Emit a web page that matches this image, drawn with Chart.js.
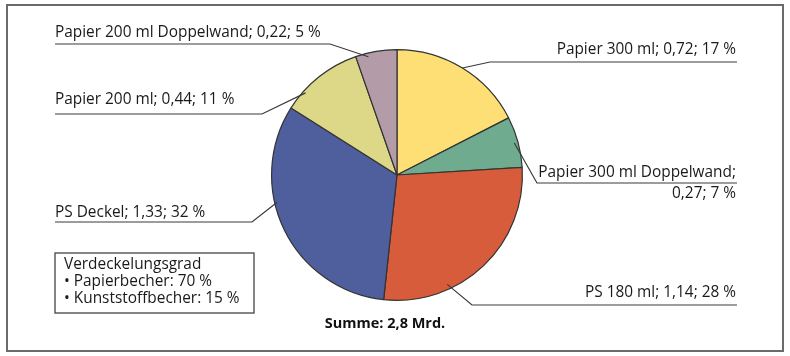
<!DOCTYPE html>
<html>
<head>
<meta charset="utf-8">
<script src="https://cdn.jsdelivr.net/npm/chart.js@4.4.1/dist/chart.umd.min.js"></script>
<style>
html,body{margin:0;padding:0;background:#fff;}
#wrap{width:790px;height:356px;position:relative;}
</style>
</head>
<body>
<div id="wrap"><canvas id="c" width="790" height="356"></canvas></div>
<script>
// ---- data ----
const categories = ["Papier 300 ml", "Papier 300 ml Doppelwand", "PS 180 ml", "PS Deckel", "Papier 200 ml", "Papier 200 ml Doppelwand"];
const values = [0.72, 0.27, 1.14, 1.33, 0.44, 0.22];
const percents = [17, 7, 28, 32, 11, 5];
const colors = ["#FDDF76", "#6FAB8E", "#D75C3C", "#4F5F9D", "#DDD888", "#B39BA8"];
const totalLabel = "Summe: 2,8 Mrd.";
const infoLines = ["Verdeckelungsgrad", "\u2022 Papierbecher: 70 %", "\u2022 Kunststoffbecher: 15 %"];

function fmt(v){ return v.toFixed(2).replace('.', ','); }

// ---- label layout (positions only) ----
const labelLayout = [
  {side:'R', x:736, ys:[50], uy:62, cx:490, da:0, rf:1.0, split:false},
  {side:'R', x:736, ys:[173,194], uy:183, cx:537, da:0, rf:0.97, split:true},
  {side:'R', x:736, ys:[293], uy:305, cx:472, da:19, rf:0.96, split:false},
  {side:'L', x:55, ys:[213], uy:222, cx:252, da:13, rf:0.98, split:false},
  {side:'L', x:55, ys:[100], uy:114, cx:262, da:-9.6, rf:0.98, split:false},
  {side:'L', x:55, ys:[33], uy:44, cx:330, da:-4, rf:0.97, split:false}
];

const FONT = '15.4px "Open Sans", "Noto Sans", sans-serif';

const decor = {
  id:'decor',
  beforeDraw(chart){
    const ctx = chart.ctx;
    ctx.save();
    ctx.fillStyle = '#fff';
    ctx.fillRect(0,0,chart.width,chart.height);
    ctx.restore();
  },
  afterDraw(chart){
    const ctx = chart.ctx;
    const meta = chart.getDatasetMeta(0);
    ctx.save();
    // frame
    ctx.strokeStyle = '#6b6b6b';
    ctx.lineWidth = 2;
    ctx.strokeRect(7, 5, 776, 346);
    // labels
    ctx.font = FONT;
    ctx.fillStyle = '#1a1a1a';
    ctx.textBaseline = 'middle';
    meta.data.forEach((arc, i) => {
      const L = labelLayout[i];
      const p = arc.getProps(['x','y','startAngle','endAngle','outerRadius'], true);
      const mid = (p.startAngle + p.endAngle)/2 + L.da*Math.PI/180;
      const r = p.outerRadius * L.rf;
      const ax = p.x + Math.cos(mid)*r;
      const ay = p.y + Math.sin(mid)*r;
      const full = categories[i] + '; ' + fmt(values[i]) + '; ' + percents[i] + ' %';
      const lines = L.split ? [categories[i] + ';', fmt(values[i]) + '; ' + percents[i] + ' %'] : [full];
      ctx.textAlign = L.side === 'L' ? 'left' : 'right';
      lines.forEach((t, k) => ctx.fillText(t, L.x, L.ys[k]));
      ctx.strokeStyle = '#3a3a3a';
      ctx.lineWidth = 1.2;
      ctx.beginPath();
      ctx.moveTo(L.side === 'L' ? L.x : L.x + 1, L.uy);
      ctx.lineTo(L.cx, L.uy);
      ctx.lineTo(ax, ay);
      ctx.stroke();
    });
    // total label
    ctx.font = 'bold 14.5px "Open Sans", "Noto Sans", sans-serif';
    ctx.textAlign = 'center';
    ctx.fillStyle = '#111';
    ctx.fillText(totalLabel, 385, 324);
    // info box
    ctx.strokeStyle = '#444';
    ctx.lineWidth = 1.3;
    ctx.strokeRect(55, 253, 199, 60);
    ctx.font = FONT;
    ctx.textAlign = 'left';
    ctx.fillStyle = '#1a1a1a';
    [265, 282, 299].forEach((y, k) => ctx.fillText(infoLines[k], 64, y));
    ctx.restore();
  }
};

new Chart(document.getElementById('c'), {
  type: 'pie',
  data: {
    labels: categories,
    datasets: [{
      data: values,
      backgroundColor: colors,
      borderColor: '#333333',
      borderWidth: 1.2
    }]
  },
  options: {
    responsive: false,
    animation: false,
    rotation: 0,
    layout: { padding: { left: 271, right: 267, top: 49, bottom: 55 } },
    plugins: { legend: { display: false }, tooltip: { enabled: false } }
  },
  plugins: [decor]
});
</script>
</body>
</html>
